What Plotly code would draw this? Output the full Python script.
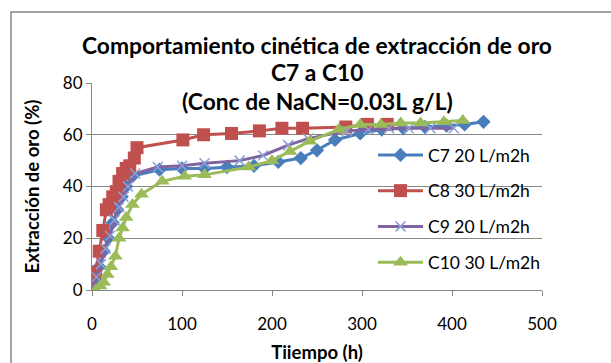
import plotly.graph_objects as go

# ---- data ----
c7_x = [0, 4, 8, 13, 18, 23, 28, 33, 38, 45, 75, 100, 125, 150, 180, 207, 232, 250, 270, 298, 322, 346, 370, 394, 414, 435]
c7_y = [0, 4, 9, 15, 20, 26, 31, 36, 40, 44, 46.5, 47, 47, 47.5, 48, 49.5, 51, 54, 58, 60.5, 62, 62.5, 63, 63.5, 64, 65]

c8_x = [0, 4, 8, 12, 16, 19, 23, 27, 30, 34, 38, 42, 47, 50, 101, 124, 155, 186, 211, 234, 282, 306, 328]
c8_y = [0, 7, 15, 23, 31, 33, 36, 38, 42, 45, 47, 48, 51, 55, 58, 60, 60.5, 61.5, 62.5, 62.5, 63, 64, 64]

c9_x = [0, 5, 10, 15, 20, 25, 30, 35, 40, 48, 73, 100, 125, 164, 190, 218, 240, 283, 307, 330, 352, 376, 402]
c9_y = [0, 5, 10, 16, 21, 27, 32, 36, 40, 45, 47.5, 48, 49, 50, 52, 56, 58.5, 61.5, 62, 62.5, 62.5, 62.5, 62.5]

c10_x = [4, 9, 13, 17, 21, 26, 30, 34, 38, 45, 55, 78, 103, 125, 174, 200, 220, 242, 274, 298, 321, 343, 365, 391, 412]
c10_y = [0, 1.5, 3, 6, 9, 13, 20, 24, 28, 33, 37, 42, 44, 44.5, 47.5, 50, 53.5, 57.5, 62, 64, 64, 64.5, 64.5, 65, 65.5]

names = ["C7 20 L/m2h", "C8 30 L/m2h", "C9 20 L/m2h", "C10 30 L/m2h"]
x_ticks = [0, 100, 200, 300, 400, 500]
y_ticks = [0, 20, 40, 60, 80]

title_lines = ["Comportamiento cinética de extracción de oro", "C7 a C10", "(Conc de NaCN=0.03L g/L)"]

FONT = "Lato"
GRAY = "#878787"

series = [
    (c7_x, c7_y, names[0], "#4A7EBB", dict(symbol="diamond", size=11)),
    (c8_x, c8_y, names[1], "#C0504D", dict(symbol="square", size=13)),
    (c9_x, c9_y, names[2], "#8064A2", dict(symbol="x-thin", size=10, line=dict(width=1.5, color="#8AA0D8"))),
    (c10_x, c10_y, names[3], "#9BBB59", dict(symbol="triangle-up", size=13)),
]

fig = go.Figure()
for i, (xs, ys, nm, col, mk) in enumerate(series):
    mk = dict(mk)
    mk.setdefault("color", col)
    fig.add_trace(go.Scatter(
        x=xs, y=ys, name=nm, mode="lines+markers",
        line=dict(color=col, width=3),
        marker=mk, legendgroup=f"g{i}",
    ))

L, R, T, B = 92, 69, 83, 73
W, H = 611, 363
pw, ph = W - L - R, H - T - B

def px_x(p):
    return (p - L) / pw

def px_y(p):
    return (H - B - p) / ph

annots = []
for txt, ypx in zip(title_lines, [45, 72, 101]):
    annots.append(dict(text=f"<b>{txt}</b>", x=px_x(317), y=px_y(ypx), xref="paper", yref="paper",
                       xanchor="center", yanchor="middle", showarrow=False,
                       font=dict(family=FONT, size=22.8, color="black")))

fig.update_layout(
    width=W, height=H,
    margin=dict(l=L, r=R, t=T, b=B, autoexpand=False),
    paper_bgcolor="white", plot_bgcolor="white",
    font=dict(family=FONT, color="black"),
    showlegend=True,
    legend=dict(x=px_x(373), y=px_y(137), xanchor="left", yanchor="top",
                bgcolor="rgba(0,0,0,0)", font=dict(family=FONT, size=17.5, color="black"),
                traceorder="grouped", tracegroupgap=10, itemwidth=45),
    annotations=annots,
    shapes=[dict(type="rect", xref="paper", yref="paper",
                 x0=px_x(11), x1=px_x(615), y0=px_y(370), y1=px_y(12),
                 line=dict(color=GRAY, width=1.5), layer="below")],
)

fig.update_xaxes(range=[0, 500], tickvals=x_ticks, ticktext=[str(v) for v in x_ticks],
                 showgrid=False, showline=True, linecolor=GRAY, linewidth=1,
                 ticks="outside", ticklen=5, tickcolor=GRAY, zeroline=False,
                 tickfont=dict(family=FONT, size=17), ticklabelstandoff=14, automargin=False,
                 title=dict(text="<b>Tiiempo (h)</b>", font=dict(family=FONT, size=18.5), standoff=12))
fig.update_yaxes(range=[0, 80], tickvals=y_ticks, ticktext=[str(v) for v in y_ticks],
                 showgrid=True, gridcolor=GRAY, gridwidth=1,
                 showline=True, linecolor=GRAY, linewidth=1,
                 ticks="outside", ticklen=5, tickcolor=GRAY, zeroline=False,
                 tickfont=dict(family=FONT, size=17), automargin=False,
                 title=dict(text="<b>Extracción de oro (%)</b>", font=dict(family=FONT, size=18.5), standoff=18))

fig.write_html("out.html")
